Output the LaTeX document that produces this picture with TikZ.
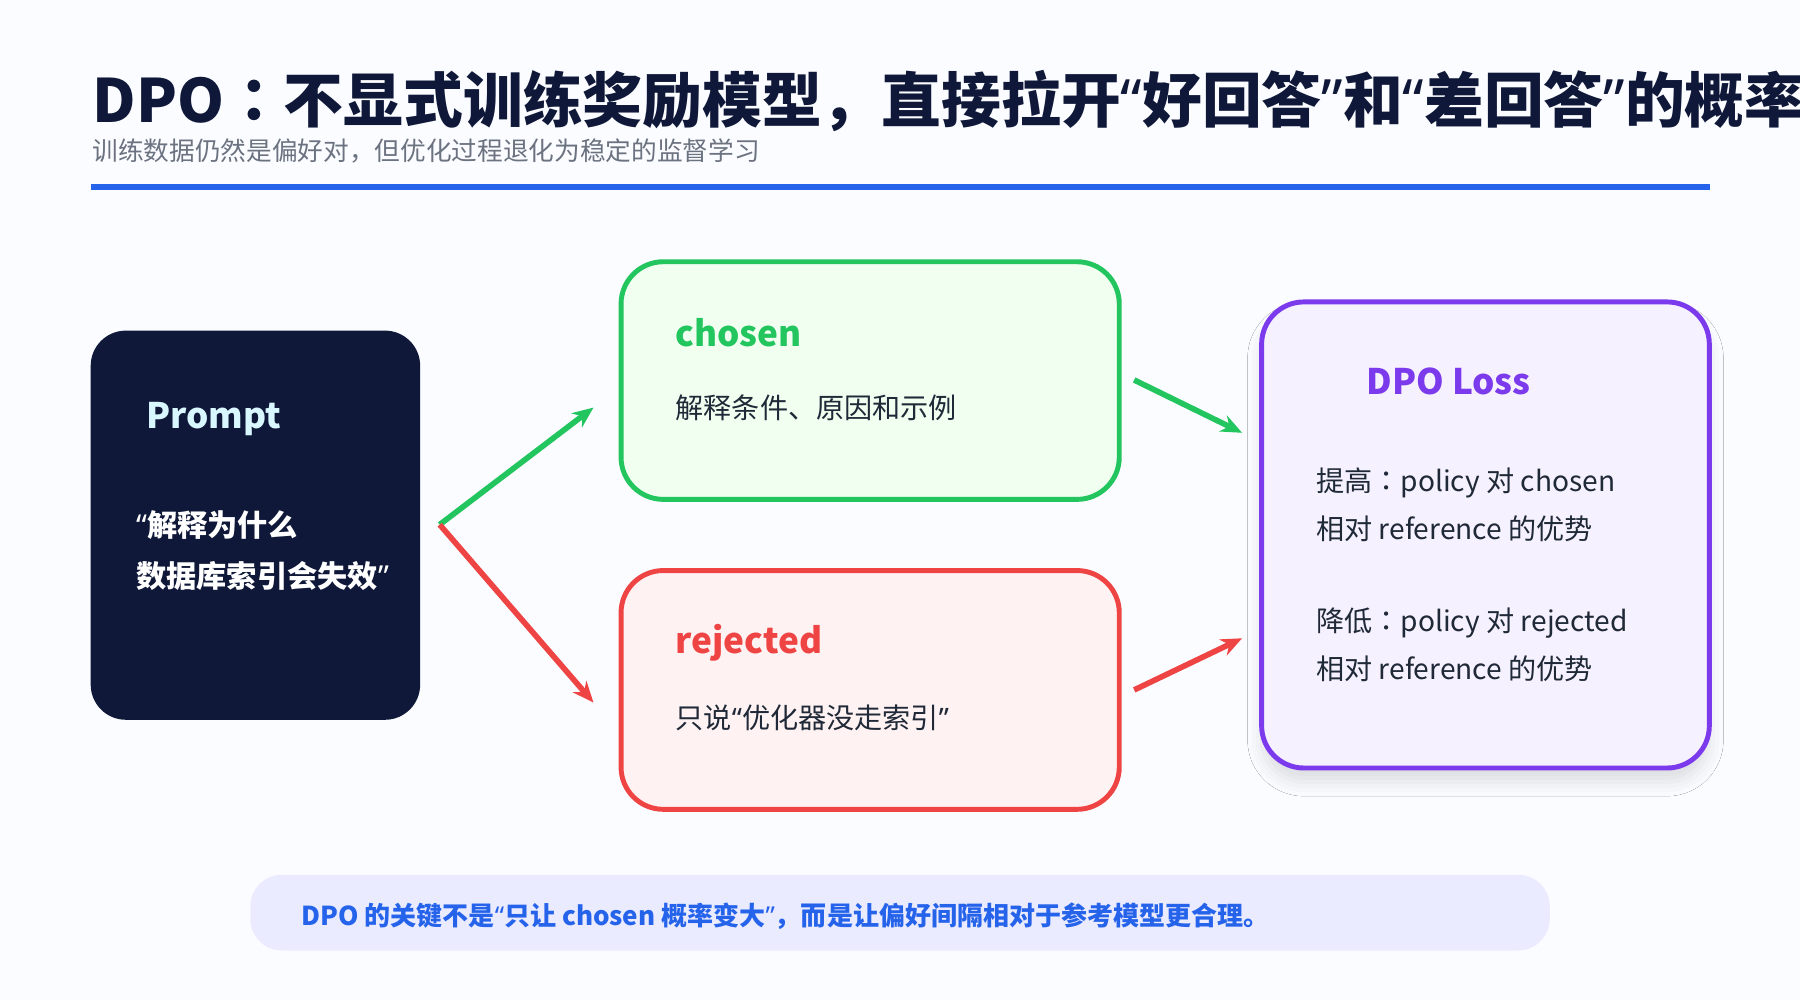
\documentclass[tikz,border=0pt]{standalone}
\usepackage{fontspec}
\setmainfont{Noto Sans CJK SC}
\newfontfamily\qfont{Noto Sans}
\newfontfamily\tcfont{Noto Sans CJK TC}
\newcommand{\oq}{{\qfont “}}
\newcommand{\cq}{{\qfont ”}}
\newcommand{\cc}{{\tcfont ：}}
\usetikzlibrary{arrows.meta,shadows.blur}
\definecolor{inkc}{HTML}{0F1838}
\definecolor{bgc}{HTML}{FBFCFF}
\definecolor{greenc}{HTML}{22C55E}
\definecolor{redc}{HTML}{EF4444}
\definecolor{purplec}{HTML}{7C3AED}
\definecolor{bluec}{HTML}{2563EB}
\definecolor{grayc}{HTML}{6B7280}
\definecolor{textc}{HTML}{1F2937}
\begin{document}
\begin{tikzpicture}[x=0.01148cm,y=-0.01148cm,
  card/.style={draw,line width=1.4pt,rounded corners=12pt},
  head/.style={anchor=west,inner sep=0,font=\fontsize{10}{12}\selectfont\bfseries},
  body/.style={anchor=west,inner sep=0,font=\fontsize{8}{10}\selectfont,text=textc,align=left},
  link/.style={line width=1.6pt,-{Stealth[length=6pt,width=5pt]}}]
\fill[bgc] (0,0) rectangle (1568,871);
\useasboundingbox (0,0) rectangle (1568,871);

% title
\node[anchor=base west,inner sep=0,font=\fontsize{17}{18}\selectfont\bfseries,text=inkc] (title) at (80,107) {DPO\cc 不显式训练奖励模型，直接拉开\oq 好回答\cq 和\oq 差回答\cq 的概率};
\node[anchor=base west,inner sep=0,font=\fontsize{7.3}{9}\selectfont,text=grayc] (sub) at (80,140) {训练数据仍然是偏好对，但优化过程退化为稳定的监督学习};
\draw[bluec,line width=1.6pt] (79,163) -- (1490,163);

% boxes
\fill[inkc,rounded corners=10pt] (79,288) rectangle (366,627);
\node[head,text=blue!20!cyan!15!white] (prompt) at (127,365) {Prompt};
\node[anchor=west,inner sep=0,align=left,text=white,font=\fontsize{8.6}{14.5}\selectfont\bfseries] (ptext) at (118,480) {\oq 解释为什么\\数据库索引会失效\cq};

\draw[card,greenc,fill=green!6!white] (541,228) rectangle (975,435);
\node[head,text=greenc] (chosen) at (588,290) {chosen};
\node[body] (ctext) at (588,355) {解释条件、原因和示例};

\draw[card,redc,fill=red!5!white] (541,497) rectangle (975,705);
\node[head,text=redc] (rejected) at (588,560) {rejected};
\node[body] (rtext) at (588,625) {只说\oq 优化器没走索引\cq};

\draw[card,purplec,fill=purplec!7!white,blur shadow={shadow xshift=0pt,shadow yshift=-4pt,shadow blur radius=4pt,shadow opacity=12}] (1099,263) rectangle (1489,669);
\node[head,text=purplec] (loss) at (1190,332) {DPO Loss};
\node[body,font=\fontsize{8}{13.7}\selectfont] (up) at (1146,440) {提高\cc policy 对 chosen\\相对 reference 的优势};
\node[body,font=\fontsize{8}{13.7}\selectfont] (down) at (1146,562) {降低\cc policy 对 rejected\\相对 reference 的优势};

% arrows
\coordinate (fork) at (383,457);
\coordinate (cin) at (517,355);
\coordinate (rin) at (517,612);
\coordinate (cout) at (988,331);
\coordinate (rout) at (988,601);
\coordinate (lin1) at (1082,377);
\coordinate (lin2) at (1082,556);
\draw[link,greenc] (fork) -- (cin);
\draw[link,redc] (fork) -- (rin);
\draw[link,greenc] (cout) -- (lin1);
\draw[link,redc] (rout) -- (lin2);

% note
\fill[blue!8!white,rounded corners=9pt] (218,762) rectangle (1350,828);
\node[anchor=west,inner sep=0,text=bluec,font=\fontsize{7.4}{9}\selectfont\bfseries] (note) at (262,798) {DPO 的关键不是\oq 只让 chosen 概率变大\cq，而是让偏好间隔相对于参考模型更合理。};
\end{tikzpicture}
\end{document}
